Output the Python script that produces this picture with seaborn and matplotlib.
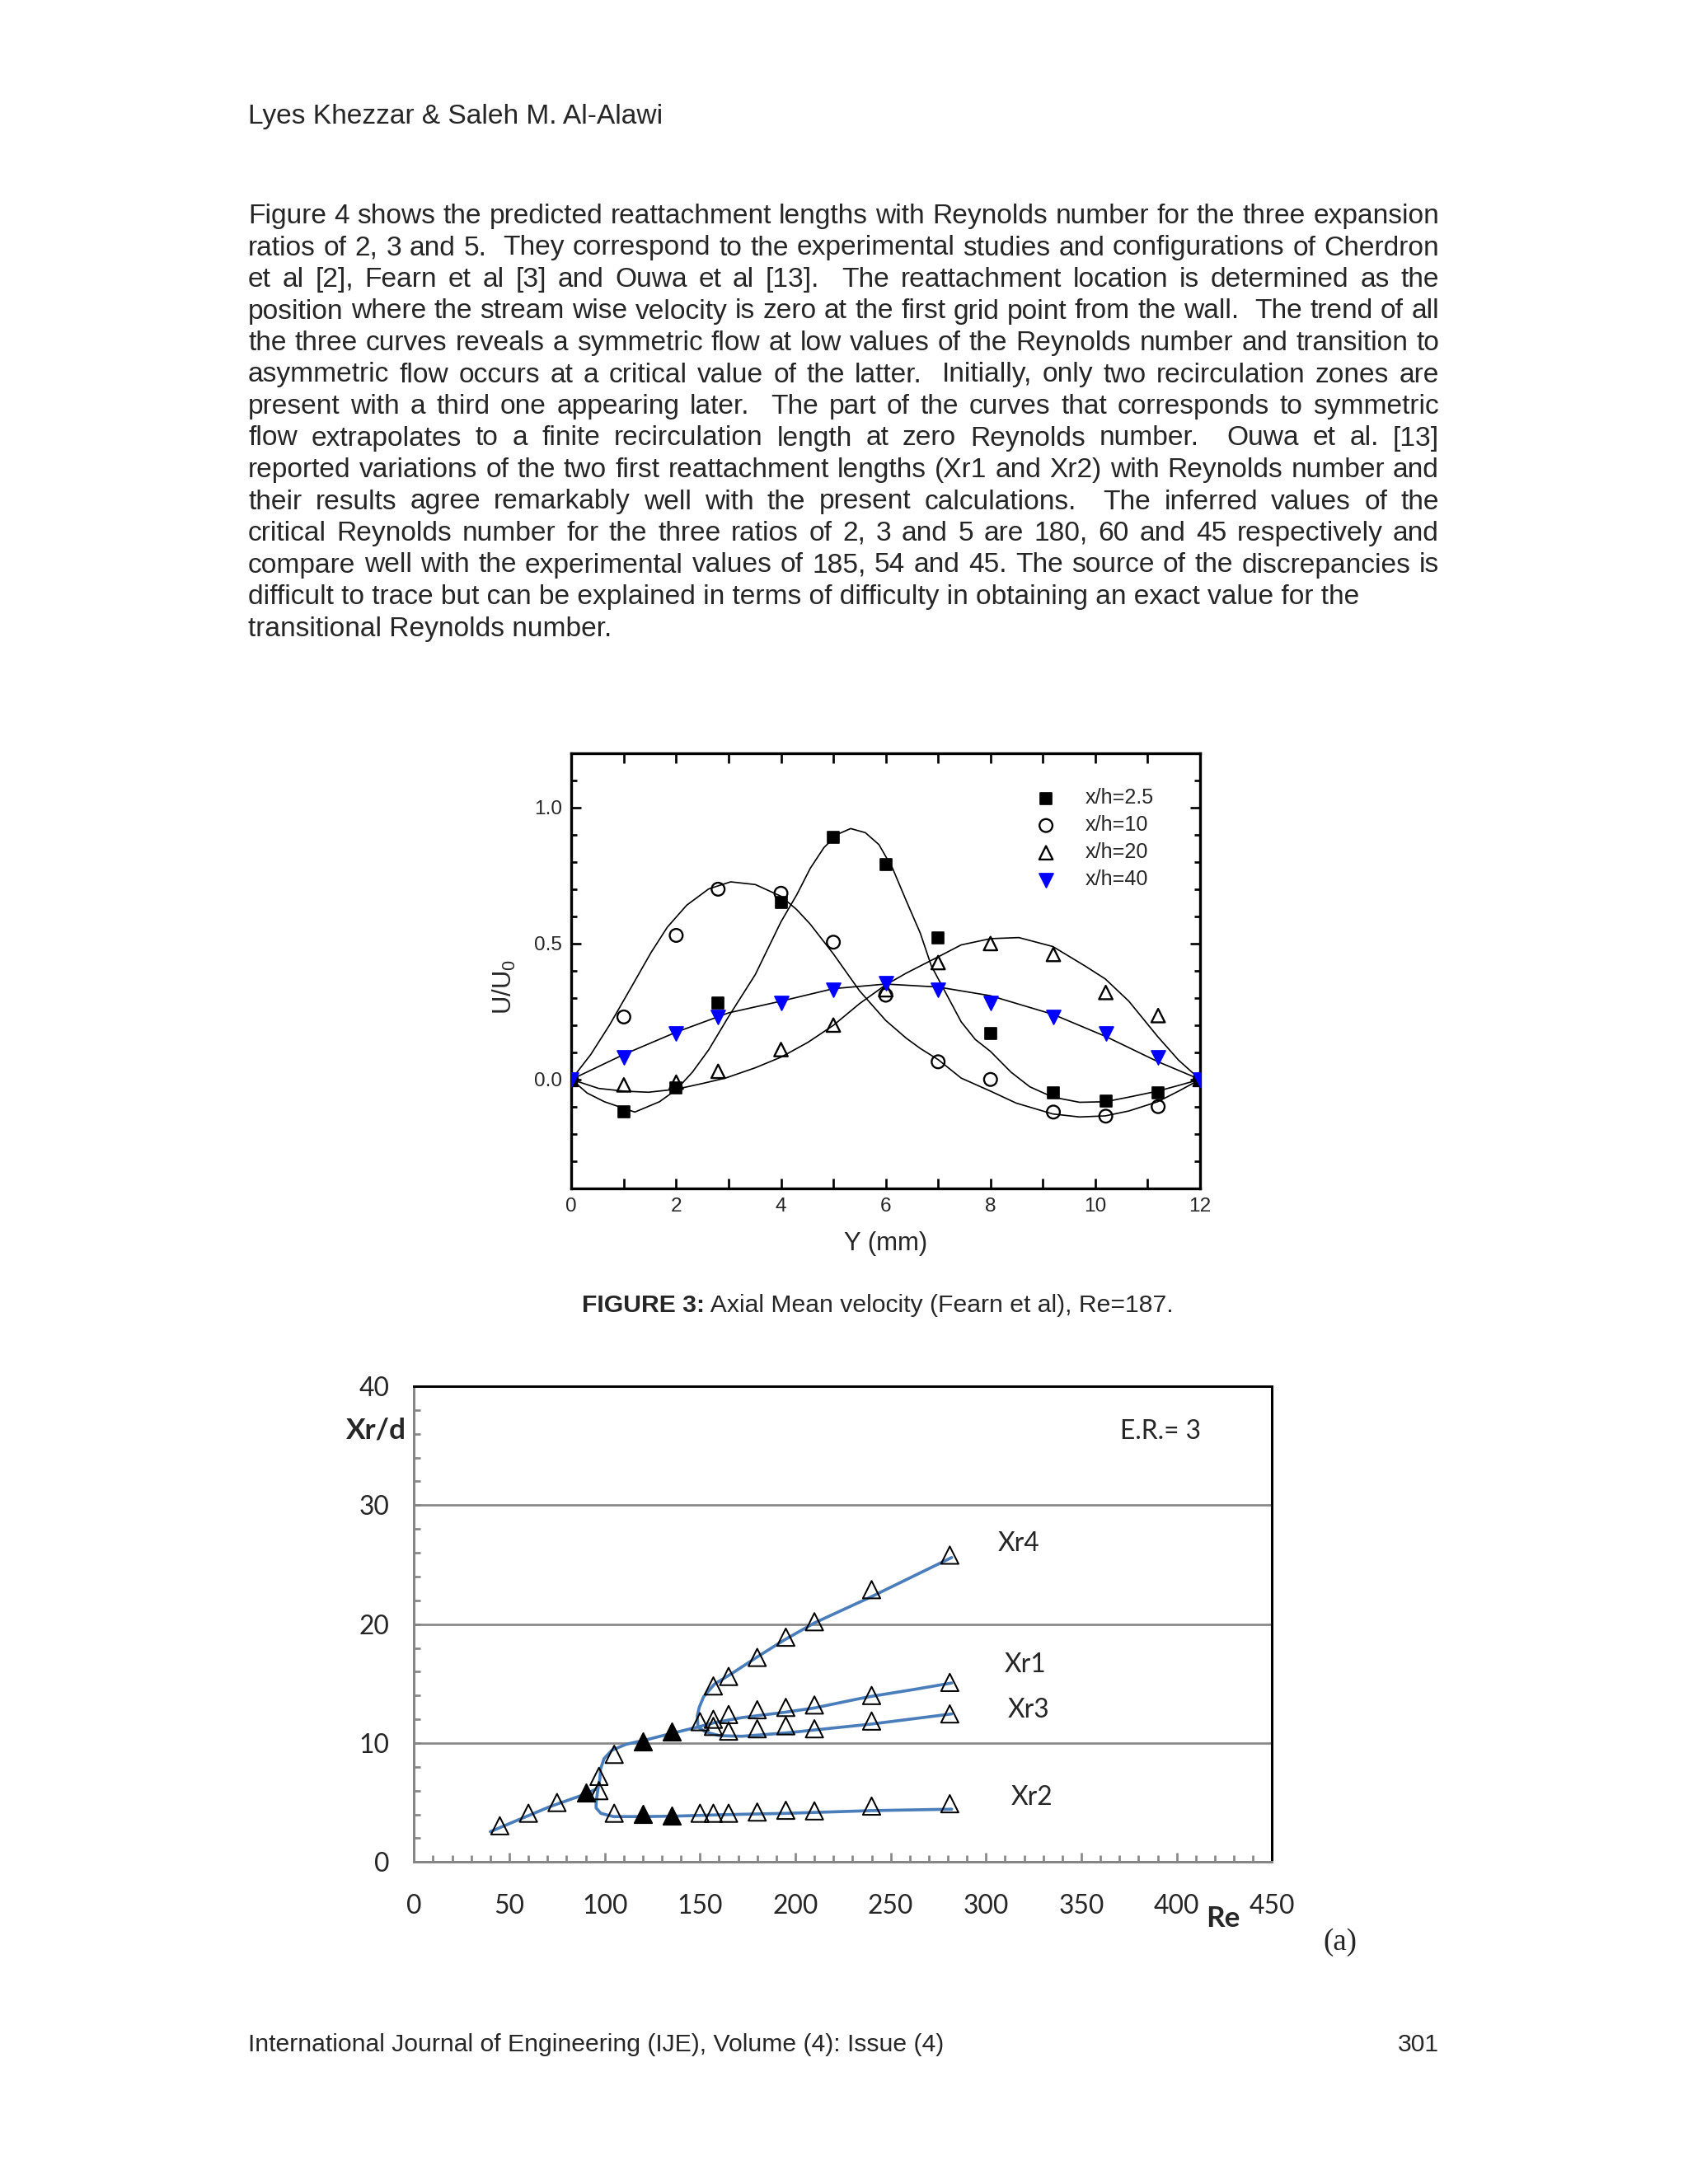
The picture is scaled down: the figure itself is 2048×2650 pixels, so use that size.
#!/usr/bin/python3

import seaborn as sns
from matplotlib import pyplot as plt
from matplotlib.ticker import MultipleLocator

W, H, DPI = 2048, 2650, 241

# ---------- Figure 3 : axial mean velocity (Fearn et al), Re=187 ----------
y_pos = [0, 1, 2, 2.8, 4, 5, 6, 7, 8, 9.2, 10.2, 11.2, 12]
u_25 = [0, -0.12, -0.03, 0.28, 0.65, 0.89, 0.79, 0.52, 0.17, -0.05, -0.08, -0.05, 0]
u_10 = [0, 0.23, 0.53, 0.70, 0.685, 0.505, 0.31, 0.065, 0.0, -0.12, -0.135, -0.10, 0]
u_20 = [0, -0.02, -0.01, 0.03, 0.11, 0.20, 0.33, 0.43, 0.50, 0.46, 0.32, 0.235, 0]
u_40 = [0, 0.08, 0.17, 0.23, 0.28, 0.33, 0.355, 0.33, 0.28, 0.23, 0.17, 0.08, 0]

# fitted curves
c25_x = [0, 0.3, 0.63, 1.21, 1.68, 2.0, 2.31, 2.62, 2.99, 3.51, 4.0, 4.3, 4.56, 4.82, 5.08,
         5.33, 5.61, 5.87, 6.13, 6.39, 6.66, 6.87, 7.08, 7.44, 7.71, 8.0, 8.39, 8.75, 9.19,
         9.7, 10.19, 10.64, 11.19, 11.59, 12]
c25_y = [0, -0.05, -0.082, -0.12, -0.082, -0.038, 0.027, 0.109, 0.228, 0.386, 0.58, 0.679,
         0.777, 0.853, 0.902, 0.923, 0.908, 0.864, 0.777, 0.658, 0.538, 0.418, 0.342, 0.212,
         0.147, 0.103, 0.027, -0.027, -0.065, -0.084, -0.082, -0.065, -0.043, -0.022, 0]
c10_x = [0, 0.37, 0.73, 1.15, 1.52, 1.83, 2.2, 2.62, 3.04, 3.51, 4.0, 4.3, 4.56, 5.0, 5.5,
         6.0, 6.39, 6.66, 7.0, 7.44, 8.0, 8.49, 9.19, 9.7, 10.19, 10.64, 11.19, 11.59, 12]
c10_y = [0, 0.092, 0.201, 0.342, 0.467, 0.56, 0.641, 0.701, 0.727, 0.717, 0.674, 0.625,
         0.571, 0.462, 0.326, 0.217, 0.152, 0.114, 0.073, 0.005, -0.043, -0.087, -0.127,
         -0.138, -0.134, -0.116, -0.082, -0.043, 0]
c20_x = [0, 0.52, 1.0, 1.47, 2.0, 2.52, 2.94, 3.51, 4.0, 4.51, 5.0, 5.5, 6.0, 6.39, 7.0,
         7.44, 8.0, 8.54, 9.19, 9.8, 10.19, 10.64, 11.19, 11.59, 12]
c20_y = [0, -0.033, -0.043, -0.047, -0.036, -0.014, 0.005, 0.043, 0.082, 0.136, 0.199,
         0.279, 0.348, 0.391, 0.451, 0.495, 0.518, 0.522, 0.489, 0.418, 0.37, 0.288, 0.158,
         0.071, 0]
c40_x = [0, 1, 2, 3, 4, 5, 6, 7, 8, 9.2, 10.2, 11.2, 12]
c40_y = [0, 0.092, 0.174, 0.245, 0.288, 0.334, 0.351, 0.34, 0.308, 0.239, 0.158, 0.065, 0]

# ---------- reattachment lengths, E.R.= 3 ----------
re_sym = [45, 60, 75, 97, 97, 105, 105]
xr_sym = [3.05, 4.1, 5.0, 7.2, 6.0, 9.05, 4.1]
re_filled = [90, 120, 120, 135, 135]
xr_filled = [5.85, 10.15, 4.05, 10.95, 3.9]
re_xr1 = [150, 157, 165, 180, 195, 210, 240, 281]
xr1 = [11.8, 12.0, 12.4, 12.8, 13.0, 13.2, 14.0, 15.1]
re_xr3 = [157, 165, 180, 195, 210, 240, 281]
xr3 = [11.4, 11.0, 11.2, 11.45, 11.2, 11.85, 12.45]
re_xr4 = [157, 165, 180, 195, 210, 240, 281]
xr4 = [14.8, 15.6, 17.2, 18.9, 20.2, 22.9, 25.8]
re_xr2 = [150, 157, 165, 180, 195, 210, 240, 281]
xr2 = [4.1, 4.1, 4.1, 4.2, 4.35, 4.3, 4.7, 4.9]

fit_main_re = [40, 56, 71.5, 89.7, 96.5, 97.5, 97.8, 99.7, 103.8, 111.3, 121.2, 134.8,
               148.9, 157.6, 172, 195, 210, 232.5, 240, 262, 282]
fit_main = [2.55, 3.63, 4.67, 5.7, 6.2, 7.0, 7.8, 8.7, 9.4, 9.9, 10.25, 10.8, 11.35,
            11.72, 12.14, 12.6, 12.95, 13.7, 13.93, 14.5, 15.05]
fit_xr2_re = [96.5, 95.5, 95.5, 98, 104.6, 121.2, 137.7, 162.6, 194.9, 239.8, 282]
fit_xr2 = [6.2, 5.0, 4.55, 4.09, 3.82, 3.82, 3.86, 3.98, 4.09, 4.32, 4.44]
fit_xr3_re = [148.9, 153.2, 160.4, 171.9, 195, 210, 240, 282]
fit_xr3 = [11.35, 10.91, 10.62, 10.57, 10.85, 11.1, 11.6, 12.45]
fit_xr4_re = [148.9, 148.6, 149.6, 151.9, 157.6, 166.2, 180.6, 193.7, 210, 239.8, 282]
fit_xr4 = [11.4, 12.3, 13.0, 13.9, 14.96, 15.8, 17.3, 18.62, 20.1, 22.3, 25.6]

curve_labels = ['Xr4', 'Xr1', 'Xr3', 'Xr2']
curve_label_pos = [(317, 26.8), (320.5, 16.6), (322.5, 12.8), (324, 5.4)]

body = [
    "Figure 4 shows the predicted reattachment lengths with Reynolds number for the three expansion",
    "ratios of 2, 3 and 5.  They correspond to the experimental studies and configurations of Cherdron",
    "et al [2], Fearn et al [3] and Ouwa et al [13].  The reattachment location is determined as the",
    "position where the stream wise velocity is zero at the first grid point from the wall.  The trend of all",
    "the three curves reveals a symmetric flow at low values of the Reynolds number and transition to",
    "asymmetric flow occurs at a critical value of the latter.  Initially, only two recirculation zones are",
    "present with a third one appearing later.  The part of the curves that corresponds to symmetric",
    "flow extrapolates to a finite recirculation length at zero Reynolds number.  Ouwa et al. [13]",
    "reported variations of the two first reattachment lengths (Xr1 and Xr2) with Reynolds number and",
    "their results agree remarkably well with the present calculations.  The inferred values of the",
    "critical Reynolds number for the three ratios of 2, 3 and 5 are 180, 60 and 45 respectively and",
    "compare well with the experimental values of 185, 54 and 45. The source of the discrepancies is",
    "difficult to trace but can be explained in terms of difficulty in obtaining an exact value for the",
    "transitional Reynolds number.",
]
body_stretch = [True] * 12 + [False, False]

ARIAL = ['Liberation Sans', 'DejaVu Sans']
CALIBRI = ['Lato', 'DejaVu Sans']


def put(fig, x, y, s, **kw):
    return fig.text(x / W, 1 - y / H, s, **kw)


def justify(fig, lines, stretch, x0, x1, y0, dy, **kw):
    r = fig.canvas.get_renderer()

    def width(s):
        t = fig.text(0, 0, s, **kw)
        w = t.get_window_extent(r).width
        t.remove()
        return w

    for i, line in enumerate(lines):
        y = y0 + i * dy
        if not stretch[i]:
            put(fig, x0, y, line, va='baseline', **kw)
            continue
        toks = line.split(' ')
        ws = [width(t) if t else 0 for t in toks]
        gap = (x1 - x0 - sum(ws)) / (len(toks) - 1)
        x = x0
        for t, w in zip(toks, ws):
            if t:
                put(fig, x, y, t, va='baseline', **kw)
            x += w + gap


sns.set_style('white')
plt.rcParams['font.family'] = ARIAL
plt.rcParams['mathtext.fontset'] = 'custom'
plt.rcParams['mathtext.rm'] = 'Liberation Sans'
plt.rcParams['mathtext.it'] = 'Liberation Sans'

fig = plt.figure(figsize=(W / DPI, H / DPI), dpi=DPI)
fig.patch.set_facecolor('white')

# ---------------- page text ----------------
put(fig, 301, 150, 'Lyes Khezzar & Saleh M. Al-Alawi', fontsize=10, va='baseline')
justify(fig, body, body_stretch, 301, 1746, 271, 38.5, fontsize=10)
put(fig, 301, 2489, 'International Journal of Engineering (IJE), Volume (4): Issue (4)',
    fontsize=9, va='baseline')
put(fig, 1746, 2489, '301', fontsize=9, va='baseline', ha='right')

r = fig.canvas.get_renderer()
cap = put(fig, 706, 1592, 'FIGURE 3:', fontsize=9, fontweight='bold', va='baseline')
cw = cap.get_window_extent(r).width
put(fig, 706 + cw, 1592, ' Axial Mean velocity (Fearn et al), Re=187.', fontsize=9, va='baseline')

# ---------------- Figure 3 ----------------
ax1 = fig.add_axes([693.3 / W, 1 - 1441.7 / H, (1456 - 693.3) / W, (1441.7 - 914) / H])
for cx, cy in [(c25_x, c25_y), (c10_x, c10_y), (c20_x, c20_y), (c40_x, c40_y)]:
    sns.lineplot(x=cx, y=cy, sort=False, estimator=None, color='black', lw=0.5, ax=ax1)

sns.scatterplot(x=y_pos, y=u_25, marker='s', s=20, color='black', edgecolor='black',
                linewidth=0.5, ax=ax1, label='x/h=2.5', zorder=3)
sns.scatterplot(x=y_pos, y=u_10, marker='o', s=22, facecolor='none', edgecolor='black',
                linewidth=0.7, ax=ax1, label='x/h=10', zorder=3)
sns.scatterplot(x=y_pos, y=u_20, marker='^', s=24, facecolor='none', edgecolor='black',
                linewidth=0.7, ax=ax1, label='x/h=20', zorder=3)
sns.scatterplot(x=y_pos, y=u_40, marker='v', s=26, color='#0000ff', edgecolor='#0000ff',
                linewidth=0.5, ax=ax1, label='x/h=40', zorder=3)

ax1.set_xlim(0, 12)
ax1.set_ylim(-0.4, 1.2)
ax1.xaxis.set_major_locator(MultipleLocator(2))
ax1.xaxis.set_minor_locator(MultipleLocator(1))
ax1.yaxis.set_major_locator(MultipleLocator(0.5))
ax1.yaxis.set_minor_locator(MultipleLocator(0.1))
ax1.yaxis.set_major_formatter(lambda v, p: f'{v:.1f}')
ax1.tick_params(which='both', direction='in', top=True, right=True, bottom=True, left=True,
                width=0.8, color='black', labelsize=7.3)
ax1.tick_params(which='major', length=3.5)
ax1.tick_params(which='minor', length=2.2)
ax1.tick_params(axis='x', which='minor', length=3.5)
ax1.tick_params(axis='x', pad=3.3)
ax1.tick_params(axis='y', pad=3.4)
for sp in ax1.spines.values():
    sp.set_linewidth(1.0)
    sp.set_color('black')
ax1.set_xlabel('')
ax1.set_ylabel('')
ax1.text(0.5005, -0.127, 'Y (mm)', transform=ax1.transAxes, ha='center', va='center',
         fontsize=9.3)
ax1.text(-0.107, 0.462, 'U/U$_0$', transform=ax1.transAxes, ha='center', va='center',
         fontsize=9.3, rotation=90)
ax1.legend(loc='upper left', bbox_to_anchor=(0.722, 0.92), frameon=False, fontsize=7.5,
           handletextpad=0.9, labelspacing=0.36, borderaxespad=0, borderpad=0,
           handlelength=2.0)

# ---------------- reattachment chart ----------------
ax2 = fig.add_axes([502.3 / W, 1 - 2259.3 / H, (1543.3 - 502.3) / W, (2259.3 - 1682) / H])
blue = '#4a7ebb'
for fx, fy in [(fit_main_re, fit_main), (fit_xr2_re, fit_xr2), (fit_xr3_re, fit_xr3),
               (fit_xr4_re, fit_xr4)]:
    sns.lineplot(x=fx, y=fy, sort=False, estimator=None, color=blue, lw=1.1, ax=ax2,
                 zorder=3)

open_re = re_sym + re_xr1 + re_xr3 + re_xr4 + re_xr2
open_xr = xr_sym + xr1 + xr3 + xr4 + xr2
sns.scatterplot(x=open_re, y=open_xr, marker='^', s=40, facecolor='none', edgecolor='black',
                linewidth=0.6, ax=ax2, zorder=4)
sns.scatterplot(x=re_filled, y=xr_filled, marker='^', s=40, color='black', edgecolor='black',
                linewidth=0.6, ax=ax2, zorder=4)

ax2.set_xlim(0, 450)
ax2.set_ylim(0, 40)
ax2.xaxis.set_major_locator(MultipleLocator(50))
ax2.xaxis.set_minor_locator(MultipleLocator(10))
ax2.yaxis.set_major_locator(MultipleLocator(10))
ax2.yaxis.set_minor_locator(MultipleLocator(2))
ax2.grid(axis='y', which='major', color='#868686', lw=0.8)
ax2.set_axisbelow(True)
ax2.tick_params(which='both', direction='in', bottom=True, left=True, top=False, right=False,
                color='#868686', width=0.8, labelsize=9.5, labelfontfamily=CALIBRI)
ax2.tick_params(axis='x', which='major', length=3.3, pad=11.5)
ax2.tick_params(axis='x', which='minor', length=2.5)
ax2.tick_params(axis='y', which='both', length=2.5, pad=9)
ax2.spines['left'].set_color('#868686')
ax2.spines['bottom'].set_color('#868686')
ax2.spines['top'].set_color('black')
ax2.spines['right'].set_color('black')
for sp in ax2.spines.values():
    sp.set_linewidth(0.9)

ax2.text(-0.009, 0.907, 'Xr/d', transform=ax2.transAxes, ha='right', va='center',
         fontsize=10.5, fontweight='bold', family=CALIBRI)
ax2.text(0.943, -0.119, 'Re', transform=ax2.transAxes, ha='center', va='center',
         fontsize=10.5, fontweight='bold', family=CALIBRI)
ax2.text(391.5, 36.2, 'E.R.= 3', ha='center', va='center', fontsize=9.5, family=CALIBRI)
for lab, (lx, ly) in zip(curve_labels, curve_label_pos):
    ax2.text(lx, ly, lab, ha='center', va='center', fontsize=9.5, family=CALIBRI)

put(fig, 1626, 2357, '(a)', fontsize=11, ha='center', va='center',
    family=['Liberation Serif', 'DejaVu Serif'])

fig.savefig('out.png', dpi=DPI, facecolor='white')
plt.close(fig)
